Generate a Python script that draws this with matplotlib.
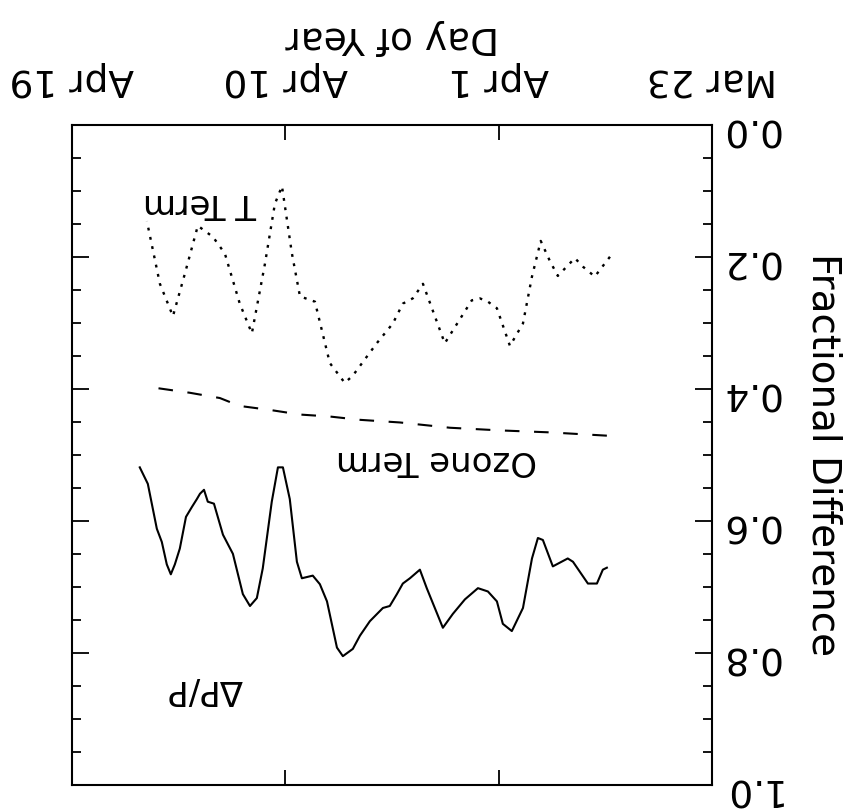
import numpy as np
import matplotlib
matplotlib.use("Agg")
import matplotlib.pyplot as plt
from matplotlib.ticker import MultipleLocator

# days after Mar 23 and fractional values for each term
t_days = [4.30, 4.94, 5.44, 5.78, 6.50, 6.84, 7.22, 7.59, 7.97, 8.52, 9.07, 9.45,
          9.79, 10.13, 11.27, 12.19, 12.62, 13.04, 13.46, 14.14, 15.15, 15.49,
          16.12, 16.75, 17.38, 17.72, 18.14, 18.44, 18.86, 19.41, 19.92, 20.55,
          21.05, 21.69, 22.24, 22.74, 23.29, 23.84]
t_term = [0.200, 0.230, 0.215, 0.202, 0.229, 0.206, 0.176, 0.230, 0.301, 0.335,
          0.278, 0.268, 0.263, 0.266, 0.331, 0.241, 0.263, 0.271, 0.301, 0.331,
          0.380, 0.391, 0.361, 0.268, 0.260, 0.195, 0.093, 0.120, 0.211, 0.316,
          0.271, 0.195, 0.170, 0.153, 0.226, 0.290, 0.241, 0.146]

oz_days = [4.43, 6.84, 8.95, 11.05, 13.16, 14.85, 16.12, 17.38, 18.65, 19.92,
           20.76, 22.03, 23.59]
oz_term = [0.471, 0.466, 0.463, 0.459, 0.451, 0.447, 0.442, 0.439, 0.432, 0.426,
           0.414, 0.406, 0.398]

dp_days = [4.43, 4.60, 4.85, 5.23, 5.86, 6.08, 6.71, 7.13, 7.34, 7.59, 7.97, 8.44,
           8.82, 9.07, 9.45, 9.87, 10.42, 10.93, 11.35, 12.03, 12.32, 12.74, 13.04,
           13.29, 13.59, 13.88, 14.43, 14.85, 15.15, 15.57, 15.82, 16.24, 16.54,
           16.84, 17.30, 17.51, 17.81, 18.10, 18.31, 18.57, 18.95, 19.20, 19.49,
           19.79, 20.21, 20.63, 21.01, 21.27, 21.43, 21.60, 21.73, 21.94, 22.19,
           22.45, 22.66, 22.83, 23.00, 23.21, 23.42, 23.80, 24.14]
dp_frac = [0.671, 0.674, 0.695, 0.695, 0.662, 0.657, 0.669, 0.629, 0.626, 0.657,
           0.732, 0.767, 0.756, 0.722, 0.707, 0.702, 0.719, 0.741, 0.762, 0.702,
           0.674, 0.687, 0.695, 0.711, 0.729, 0.732, 0.752, 0.774, 0.794, 0.805,
           0.792, 0.722, 0.696, 0.683, 0.687, 0.662, 0.567, 0.519, 0.519, 0.571,
           0.672, 0.717, 0.729, 0.711, 0.650, 0.621, 0.574, 0.571, 0.553, 0.559,
           0.567, 0.579, 0.594, 0.642, 0.666, 0.681, 0.666, 0.632, 0.612, 0.544,
           0.519]

tick_days = [0, 9, 18, 27]
tick_names = ["Mar 23", "Apr 1", "Apr 10", "Apr 19"]

plt.rcParams["font.family"] = ["DejaVu Sans"]
fig = plt.figure(figsize=(8.52, 8.10), dpi=100)
ax = fig.add_axes([0.0845, 0.031, 0.751, 0.815])

ax.plot(t_days, t_term, color="black", lw=1.7, ls=(0, (1.2, 2.8)))
ax.plot(oz_days, oz_term, color="black", lw=1.5, ls=(0, (7, 7)))
ax.plot(dp_days, dp_frac, color="black", lw=1.5)

# whole plot is shown turned half a revolution
ax.set_xlim(27, 0)
ax.set_ylim(1.0, 0.0)
ax.xaxis.tick_top()
ax.xaxis.set_label_position("top")
ax.yaxis.tick_right()
ax.yaxis.set_label_position("right")

ax.set_xticks(tick_days)
ax.set_xticklabels(tick_names, rotation=180, fontsize=27)
ax.yaxis.set_major_locator(MultipleLocator(0.2))
ax.yaxis.set_minor_locator(MultipleLocator(0.05))
ax.set_yticklabels([f"{v:.1f}" for v in ax.get_yticks()], rotation=180, fontsize=27)
ax.tick_params(axis="both", which="both", direction="in", top=True, bottom=True,
               left=True, right=True, width=1.3)
ax.tick_params(axis="x", length=11, pad=20)
ax.tick_params(axis="y", which="major", length=12, pad=6)
ax.tick_params(axis="y", which="minor", length=6.5)

ax.set_xlabel("Day of Year", rotation=180, fontsize=27, labelpad=10)
ax.set_ylabel("Fractional Difference", rotation=270, fontsize=28, labelpad=18,
              va="bottom")

for sp in ax.spines.values():
    sp.set_linewidth(1.5)

ax.text(21.6, 0.12, "T Term", rotation=180, fontsize=24.5, ha="center", va="center")
ax.text(11.6, 0.508, "Ozone Term", rotation=180, fontsize=24.5, ha="center", va="center")
ax.text(21.4, 0.855, "ΔP/P", rotation=180, fontsize=24.5, ha="center", va="center")

fig.savefig("out.png", dpi=100)
